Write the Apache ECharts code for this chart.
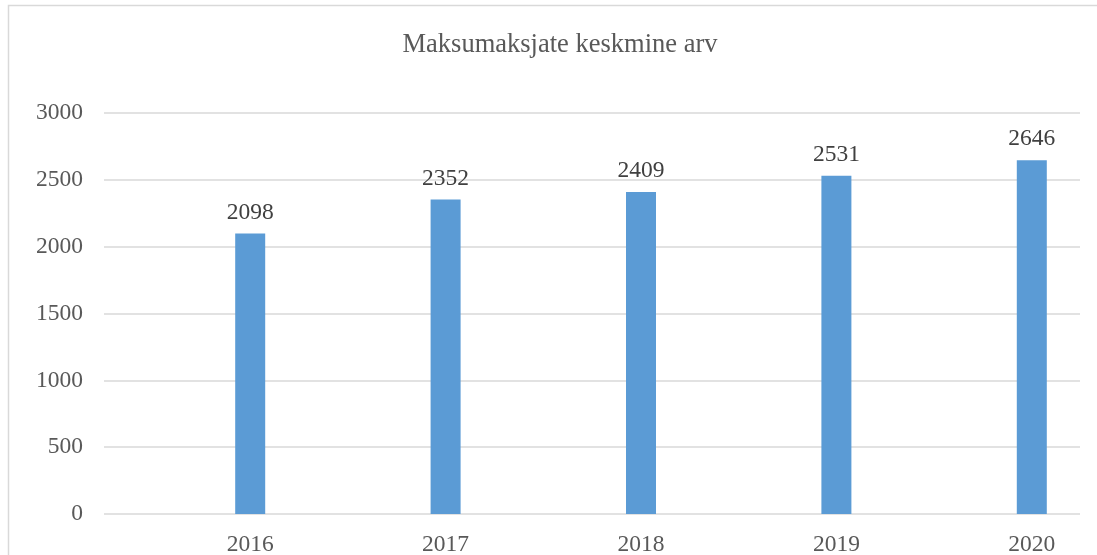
<!DOCTYPE html>
<html><head><meta charset="utf-8">
<script src="https://cdn.jsdelivr.net/npm/echarts@6/dist/echarts.min.js"></script>
<style>html,body{margin:0;padding:0;background:#fff}#c{width:1097px;height:555px}</style>
</head><body><div id="c"></div>
<script>
const title = 'Maksumaksjate keskmine arv';
const categories = ['2016', '2017', '2018', '2019', '2020'];
const values = [2098, 2352, 2409, 2531, 2646];
const yMin = 0, yMax = 3000, yStep = 500;

const font = '"Liberation Serif", "Times New Roman", serif';
const chart = echarts.init(document.getElementById('c'));
chart.setOption({
  animation: false,
  backgroundColor: '#fff',
  title: { text: title, left: 555, top: 27, textAlign: 'center',
    textStyle: { fontFamily: font, fontSize: 26.5, fontWeight: 'normal', color: '#595959' } },
  graphic: [{ type: 'rect', shape: { x: 8.5, y: 5.5, width: 1200, height: 700 },
    style: { fill: 'none', stroke: '#D9D9D9', lineWidth: 1.5 }, silent: true }],
  grid: [
    { left: 104, width: 976, top: 113, bottom: 41, outerBoundsMode: 'none' },
    { left: 152.5, width: 977, top: 113, bottom: 41, outerBoundsMode: 'none' }
  ],
  xAxis: [
    { type: 'category', gridIndex: 0, data: categories, show: false },
    { type: 'category', gridIndex: 1, data: categories,
      axisLine: { show: false }, axisTick: { show: false },
      axisLabel: { fontFamily: font, fontSize: 23.5, color: '#595959', margin: 19 } }
  ],
  yAxis: [
    { type: 'value', gridIndex: 0, min: yMin, max: yMax, interval: yStep,
      axisLine: { show: false }, axisTick: { show: false },
      axisLabel: { fontFamily: font, fontSize: 23.5, color: '#595959', margin: 21,
        padding: [4, 0, 0, 0], formatter: v => String(v) },
      splitLine: { lineStyle: { color: '#D9D9D9', width: 1.5 } } },
    { type: 'value', gridIndex: 1, min: yMin, max: yMax, interval: yStep, show: false,
      splitLine: { show: false } }
  ],
  series: [{
    type: 'bar', xAxisIndex: 1, yAxisIndex: 1, data: values, barWidth: 30,
    itemStyle: { color: '#5B9BD5' },
    label: { show: true, position: 'top', distance: 9, fontFamily: font, fontSize: 23.5, color: '#404040' }
  }]
});
</script></body></html>
